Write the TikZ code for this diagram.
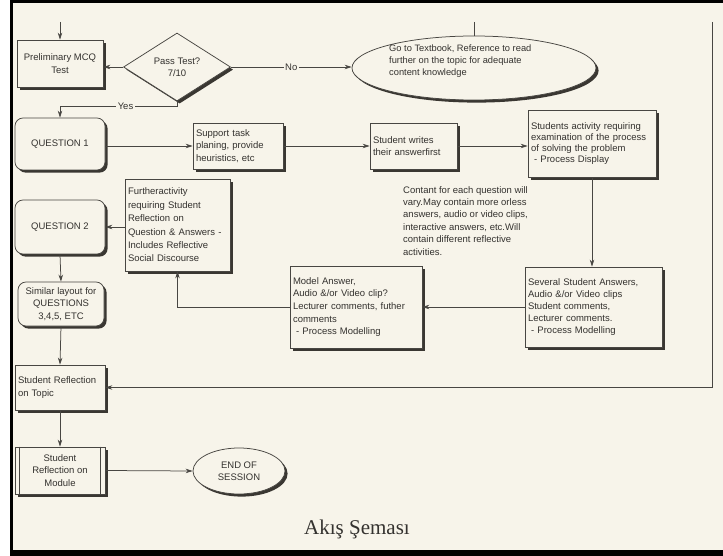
\documentclass[tikz,border=0pt]{standalone}
\usepackage{fontspec}
\setmainfont{Liberation Sans}
\newfontfamily\capfont{Liberation Serif}
\usetikzlibrary{shapes.geometric,shadows,arrows.meta}
\definecolor{bg}{RGB}{247,244,234}
\definecolor{ink}{RGB}{72,70,66}
\definecolor{txt}{RGB}{52,50,47}
\definecolor{shade}{RGB}{58,55,50}
\begin{document}
\begin{tikzpicture}[x=1pt,y=-1pt,
  every node/.style={font=\fontsize{9.5}{12.3}\selectfont, text=txt},
  ln/.style={draw=ink, line width=0.75pt},
  arr/.style={ln, -{Stealth[length=7pt,width=4.5pt]}},
  shad/.style={drop shadow={shadow xshift=2.6pt,shadow yshift=-2.6pt,fill=shade,opacity=1}},
  sqbox/.style={draw=ink, line width=0.75pt, fill=bg, shad, rectangle, inner sep=3pt, align=left},
  rbox/.style={sqbox, rounded corners=8pt, align=center},
  oval/.style={ellipse, draw=ink, line width=0.75pt, fill=bg, shad, inner sep=0pt, align=center},
  lab/.style={fill=bg, inner sep=1.5pt}
]
\useasboundingbox (0,0) rectangle (723,556);
% page background and frame
\fill[white] (0,0) rectangle (723,556);
\fill[bg] (12,2) rectangle (723,551);
\fill[black] (10,0) rectangle (723,3);
\fill[black] (10,0) rectangle (13,556);
\fill[black] (10,550) rectangle (723,556);

% nodes
\node[sqbox, align=center, minimum width=86pt, minimum height=47pt] (prelim) at (60,63.5) {Preliminary MCQ\\Test};
\node[diamond, draw=ink, line width=0.75pt, fill=bg, shad, minimum width=107pt, minimum height=68pt, inner sep=0pt, align=center] (pass) at (177,67) {Pass Test?\\7/10};
\node[oval, minimum width=244pt, minimum height=64pt] (goto) at (474,68) {};
\node[anchor=north west, align=left, inner sep=0pt, font=\fontsize{9.3}{11.6}\selectfont] (gototext) at (389,45) {Go to Textbook, Reference to read\\further on the topic for adequate\\content knowledge};

\node[rbox, minimum width=90pt, minimum height=52pt] (q1) at (60,144) {QUESTION 1};
\node[sqbox, minimum width=90pt, minimum height=46pt, text width=84pt] (support) at (238,146) {Support task\\planing, provide\\heuristics, etc};
\node[sqbox, minimum width=87pt, minimum height=46pt, text width=81pt] (writes) at (413.5,146) {Student writes\\their answerfirst};
\node[sqbox, minimum width=128pt, minimum height=67pt, text width=122pt, font=\fontsize{9.5}{11}\selectfont] (activity) at (592,143.5) {Students activity requiring\\examination of the process\\of solving the problem\\\ - Process Display};

\node[anchor=north west, align=left, inner sep=0pt, font=\fontsize{9.5}{12.4}\selectfont] (note) at (403,186) {Contant for each question will\\vary.May contain more orless\\answers, audio or video clips,\\interactive answers, etc.Will\\contain different reflective\\activities.};

\node[rbox, minimum width=90pt, minimum height=54pt] (q2) at (60,227) {QUESTION 2};
\node[sqbox, minimum width=105pt, minimum height=92pt, text width=99pt, font=\fontsize{9.5}{13.4}\selectfont] (further) at (177.5,225) {Furtheractivity\\requiring Student\\Reflection on\\Question \& Answers -\\Includes Reflective\\Social Discourse};

\node[rbox, minimum width=86pt, minimum height=44pt] (similar) at (61,304) {Similar layout for\\QUESTIONS\\3,4,5, ETC};
\node[sqbox, minimum width=132pt, minimum height=82pt, text width=126pt, font=\fontsize{9.5}{12.6}\selectfont] (model) at (356,307) {Model Answer,\\Audio \&/or Video clip?\\Lecturer comments, futher\\comments\\\ - Process Modelling};
\node[sqbox, minimum width=137pt, minimum height=80pt, text width=131pt, font=\fontsize{9.5}{12.2}\selectfont] (several) at (593.5,307) {Several Student Answers,\\Audio \&/or Video clips\\Student comments,\\Lecturer comments.\\\ - Process Modelling};

\node[sqbox, minimum width=90pt, minimum height=45pt, text width=84pt] (topic) at (60,387.5) {Student Reflection\\on Topic};
\node[sqbox, align=center, minimum width=90pt, minimum height=47pt] (module) at (60,470.5) {Student\\Reflection on\\Module};
\draw[ln] ([xshift=5pt]module.north west) -- ([xshift=5pt]module.south west);
\draw[ln] ([xshift=-5pt]module.north east) -- ([xshift=-5pt]module.south east);
\node[oval, minimum width=92pt, minimum height=46pt] (endses) at (239,471) {END OF\\SESSION};

\node[inner sep=0pt, font=\capfont\fontsize{21}{24}\selectfont] (caption) at (357,529) {Akış Şeması};

% connector free ends
\coordinate (intop) at (60,22);
\coordinate (gotop) at (474,22);
\coordinate (rtop) at (712,22);

% connectors
\draw[arr] (intop) -- (prelim.north);
\draw[arr] (pass.west) -- (prelim.east |- pass.west);
\draw[arr] (pass.east) -- node[lab]{No} (goto.west |- pass.east);
\draw[arr] (pass.south) -- ++(0,5) -| node[lab, pos=0.22]{Yes} (q1.north);
\draw[ln] (gotop) -- (goto.north);
\draw[arr] (rtop) |- (topic.east);
\draw[arr] (q1.east |- support.west) -- (support.west);
\draw[arr] (support.east) -- (writes.west);
\draw[arr] (writes.east) -- (activity.west |- writes.east);
\draw[arr] (activity.south) -- (activity.south |- several.north);
\draw[arr] (several.west |- model.east) -- (model.east);
\draw[arr] (model.west) -| (further.south);
\draw[arr] (further.west |- q2.east) -- (q2.east);
\draw[arr] (q2.south) -- (similar.north);
\draw[arr] (similar.south) -- (topic.north);
\draw[arr] (topic.south) -- (module.north);
\draw[arr] (module.east) -- (endses.west);
\end{tikzpicture}
\end{document}
